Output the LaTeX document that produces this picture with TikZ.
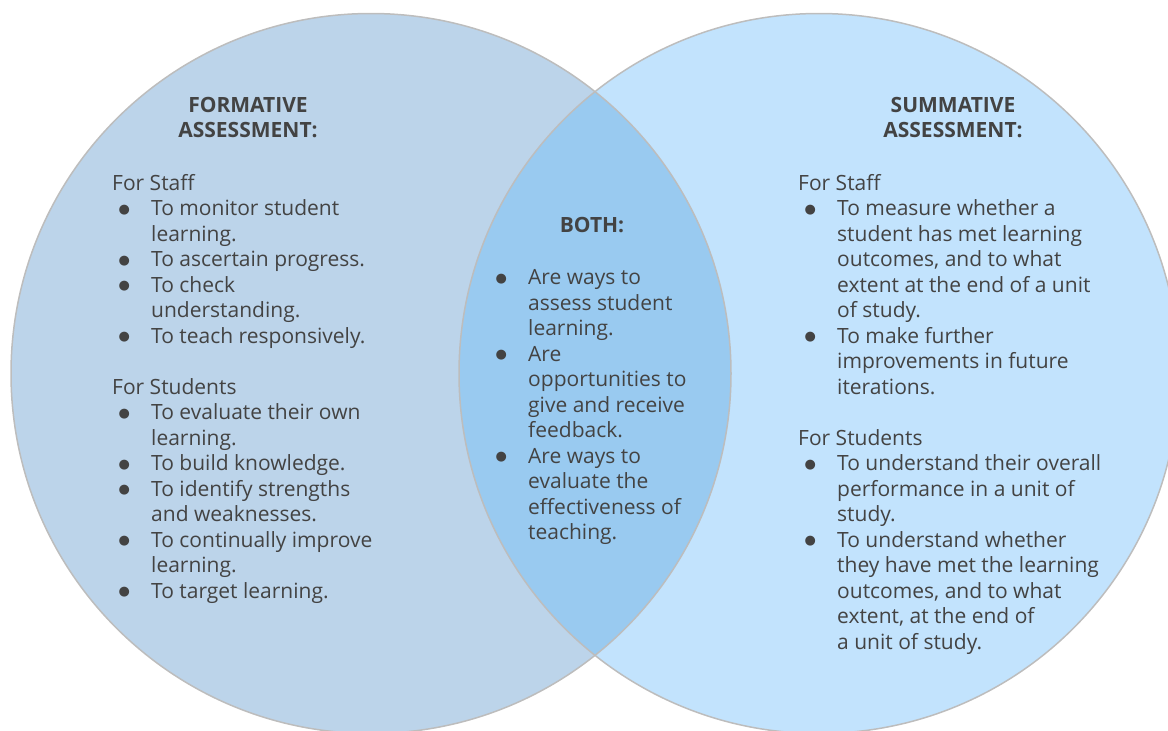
\documentclass[tikz,border=0pt]{standalone}
\usepackage{fontspec}
\setmainfont{Open Sans}
\newfontfamily\dejavu{DejaVu Sans}
\definecolor{txtc}{HTML}{434343}
\definecolor{leftc}{HTML}{BCD4EA}
\definecolor{rightc}{HTML}{C2E3FD}
\definecolor{bothc}{HTML}{99CAF0}
\definecolor{edgec}{HTML}{BDBDBD}
\newcommand\bul{\makebox[39pt][l]{\hspace{12pt}\makebox[0pt]{\raisebox{2.5pt}{\dejavu\fontsize{13}{13}\selectfont ●}}}}
\newcommand\ind{\hspace*{39pt}}
\begin{document}
\begin{tikzpicture}[x=1pt,y=-1pt,
  txt/.style={inner sep=0pt, anchor=north west, align=left, text=txtc,
    font=\fontsize{21}{25.5}\selectfont},
  head/.style={inner sep=0pt, anchor=north, align=center, text=txtc,
    font=\fontsize{21}{25}\selectfont\bfseries},
  ring/.style={draw=edgec, line width=1.5pt}]
\useasboundingbox (0,0) rectangle (1168,731);
\coordinate (CL) at (371,373.5);
\coordinate (CR) at (819,373.5);
\fill[leftc] (CL) circle[radius=360pt];
\fill[rightc] (CR) circle[radius=360pt];
\begin{scope}
  \clip (CL) circle[radius=360pt];
  \fill[bothc] (CR) circle[radius=360pt];
\end{scope}
\draw[ring] (CL) circle[radius=360pt];
\draw[ring] (CR) circle[radius=360pt];

\node[head] (hL) at (248,95.15) {\strut FORMATIVE\\ASSESSMENT:};
\node[head] (hR) at (953,95.15) {\strut SUMMATIVE\\ASSESSMENT:};
\node[head] (hB) at (592,215.15) {\strut BOTH:};

\node[txt] (tL) at (112,172.15) {\strut For Staff\\
\bul To monitor student\\
\ind learning.\\
\bul To ascertain progress.\\
\bul To check\\
\ind understanding.\\
\bul To teach responsively.\\[25.5pt]
For Students\\
\bul To evaluate their own\\
\ind learning.\\
\bul To build knowledge.\\
\bul To identify strengths\\
\ind and weaknesses.\\
\bul To continually improve\\
\ind learning.\\
\bul To target learning.};

\node[txt] (tB) at (489,266.65) {\strut\bul Are ways to\\
\ind assess student\\
\ind learning.\\
\bul Are\\
\ind opportunities to\\
\ind give and receive\\
\ind feedback.\\
\bul Are ways to\\
\ind evaluate the\\
\ind effectiveness of\\
\ind teaching.};

\node[txt] (tR) at (798,172.15) {\strut For Staff\\
\bul To measure whether a\\
\ind student has met learning\\
\ind outcomes, and to what\\
\ind extent at the end of a unit\\
\ind of study.\\
\bul To make further\\
\ind improvements in future\\
\ind iterations.\\[25.5pt]
For Students\\
\bul To understand their overall\\
\ind performance in a unit of\\
\ind study.\\
\bul To understand whether\\
\ind they have met the learning\\
\ind outcomes, and to what\\
\ind extent, at the end of\\
\ind a unit of study.};
\end{tikzpicture}
\end{document}
